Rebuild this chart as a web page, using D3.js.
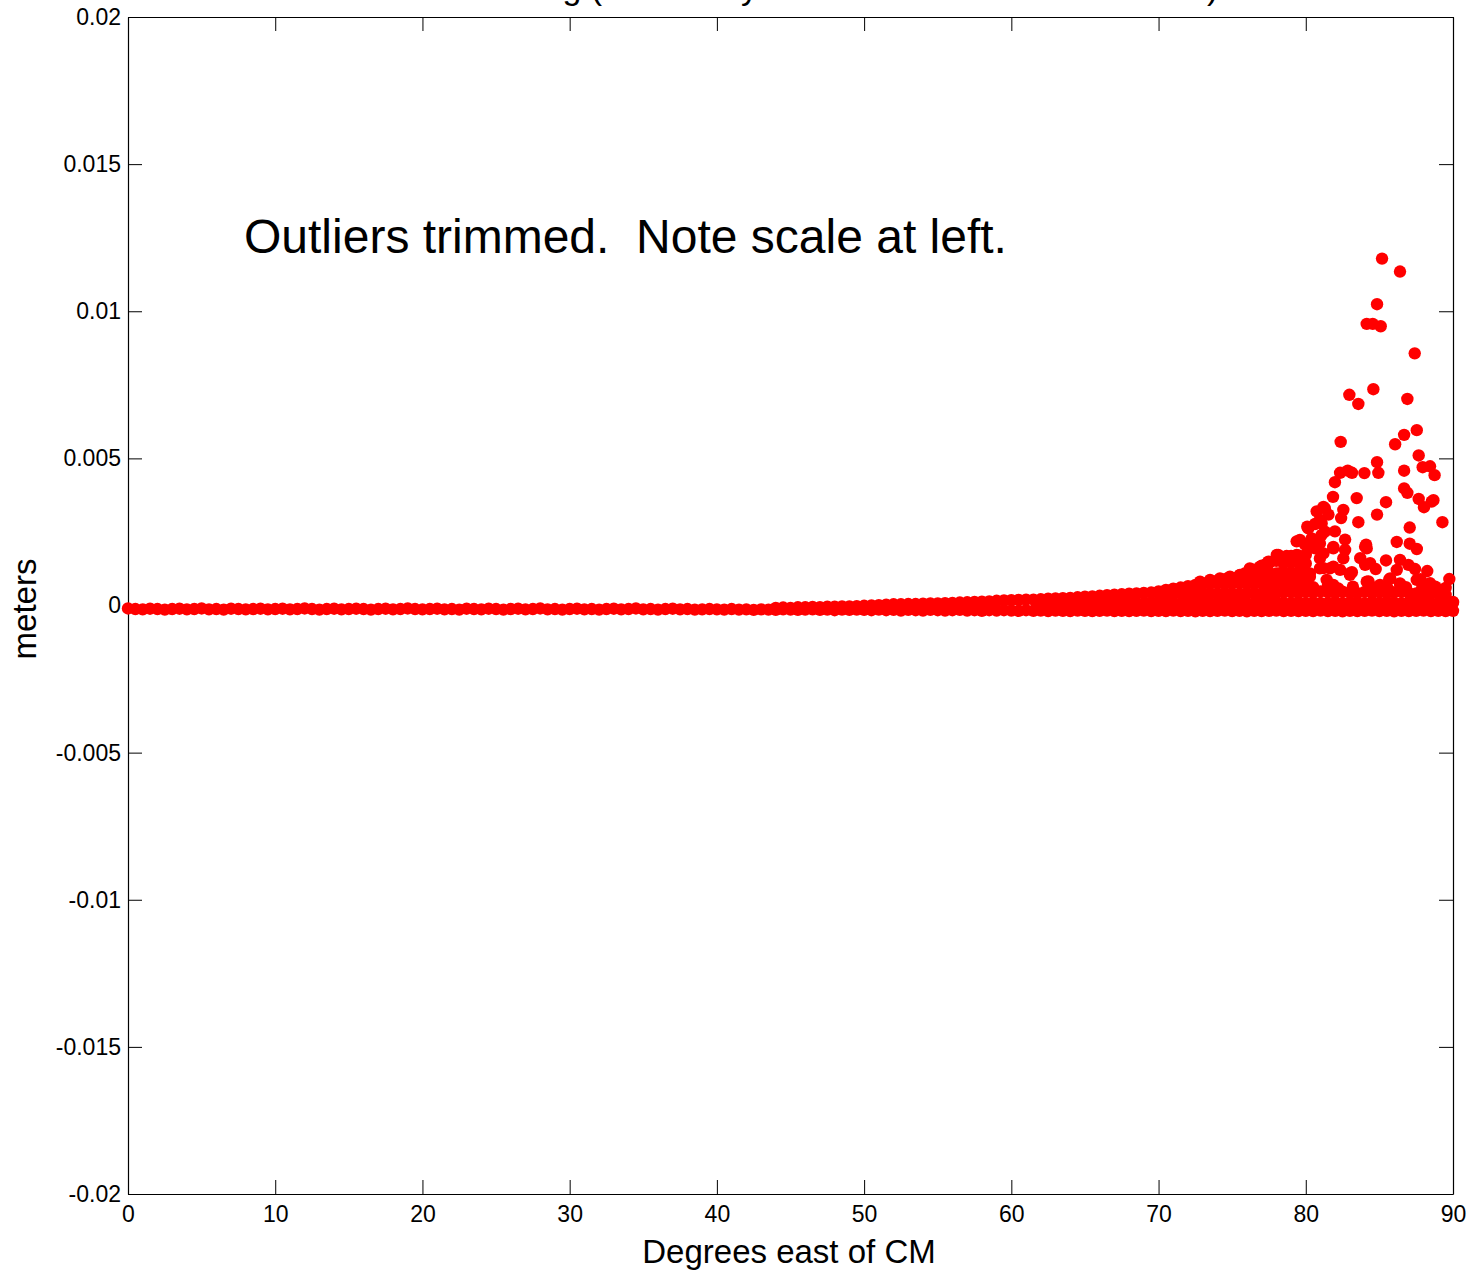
<!DOCTYPE html>
<html>
<head>
<meta charset="utf-8">
<script src="https://cdn.jsdelivr.net/npm/d3@7"></script>
<style>
body { margin: 0; background: #fff; }
svg { display: block; font-family: "Liberation Sans", Arial, sans-serif; }
</style>
</head>
<body>
<svg id="chart" width="1474" height="1271"></svg>
<script>
// axis ticks
var xTicks = [0, 10, 20, 30, 40, 50, 60, 70, 80, 90];
var xTickLabels = ['0', '10', '20', '30', '40', '50', '60', '70', '80', '90'];
var yTicks = [0.02, 0.015, 0.01, 0.005, 0, -0.005, -0.01, -0.015, -0.02];
var yTickLabels = ['0.02', '0.015', '0.01', '0.005', '0', '-0.005', '-0.01', '-0.015', '-0.02'];

// degrees of the dense band near zero
var bandDeg = [0,0.5,1,1.5,2,2.5,3,3.5,4,4.5,5,5.5,6,6.5,7,7.5,8,8.5,9,9.5,
  10,10.5,11,11.5,12,12.5,13,13.5,14,14.5,15,15.5,16,16.5,17,17.5,18,18.5,19,19.5,
  20,20.5,21,21.5,22,22.5,23,23.5,24,24.5,25,25.5,26,26.5,27,27.5,28,28.5,29,29.5,
  30,30.5,31,31.5,32,32.5,33,33.5,34,34.5,35,35.5,36,36.5,37,37.5,38,38.5,39,39.5,
  40,40.5,41,41.5,42,42.5,43,43.5,44,44.5,45,45.5,46,46.5,47,47.5,48,48.5,49,49.5,
  50,50.5,51,51.5,52,52.5,53,53.5,54,54.5,55,55.5,56,56.5,57,57.5,58,58.5,59,59.5,
  60,60.5,61,61.5,62,62.5,63,63.5,64,64.5,65,65.5,66,66.5,67,67.5,68,68.5,69,69.5,
  70,70.5,71,71.5,72,72.5,73,73.5,74,74.5,75,75.5,76,76.5,77,77.5,78,78.5,79,79.5,
  80,80.5,81,81.5,82,82.5,83,83.5,84,84.5,85,85.5,86,86.5,87,87.5,88,88.5,89,89.5,90];

// lowest row of the band (meters)
var bandLow = [-0.00010,-0.00012,-0.00013,-0.00011,-0.00012,-0.00014,-0.00012,-0.00011,-0.00013,-0.00012,-0.00010,-0.00013,-0.00012,-0.00014,-0.00011,-0.00012,-0.00013,-0.00012,-0.00011,-0.00013,
  -0.00012,-0.00011,-0.00013,-0.00012,-0.00010,-0.00012,-0.00014,-0.00012,-0.00011,-0.00013,-0.00012,-0.00011,-0.00012,-0.00014,-0.00012,-0.00011,-0.00013,-0.00012,-0.00010,-0.00012,
  -0.00013,-0.00012,-0.00011,-0.00013,-0.00012,-0.00014,-0.00011,-0.00012,-0.00013,-0.00011,-0.00012,-0.00014,-0.00012,-0.00011,-0.00013,-0.00012,-0.00010,-0.00013,-0.00012,-0.00014,
  -0.00012,-0.00011,-0.00013,-0.00012,-0.00014,-0.00012,-0.00011,-0.00013,-0.00012,-0.00010,-0.00013,-0.00012,-0.00014,-0.00012,-0.00011,-0.00013,-0.00012,-0.00014,-0.00013,-0.00012,
  -0.00013,-0.00014,-0.00012,-0.00014,-0.00013,-0.00015,-0.00013,-0.00014,-0.00015,-0.00013,-0.00014,-0.00015,-0.00014,-0.00013,-0.00015,-0.00014,-0.00016,-0.00014,-0.00015,-0.00014,
  -0.00015,-0.00016,-0.00014,-0.00016,-0.00015,-0.00017,-0.00015,-0.00016,-0.00017,-0.00015,-0.00016,-0.00017,-0.00016,-0.00015,-0.00017,-0.00016,-0.00018,-0.00016,-0.00017,-0.00016,
  -0.00017,-0.00018,-0.00016,-0.00018,-0.00017,-0.00019,-0.00017,-0.00018,-0.00019,-0.00017,-0.00018,-0.00019,-0.00018,-0.00017,-0.00019,-0.00018,-0.00019,-0.00018,-0.00017,-0.00019,
  -0.00018,-0.00019,-0.00017,-0.00019,-0.00018,-0.00020,-0.00018,-0.00019,-0.00018,-0.00017,-0.00019,-0.00018,-0.00020,-0.00018,-0.00019,-0.00018,-0.00017,-0.00019,-0.00018,-0.00019,
  -0.00018,-0.00019,-0.00017,-0.00019,-0.00018,-0.00020,-0.00018,-0.00019,-0.00018,-0.00017,-0.00019,-0.00018,-0.00020,-0.00018,-0.00019,-0.00018,-0.00017,-0.00019,-0.00018,-0.00019,-0.00018];

// upper edge of the band, [deg, meters]
var bandRidge = [[44,-0.00008],[44.5,-0.00007],[45,-0.00008],[45.5,-0.00006],[46,-0.00006],[46.5,-0.00005],[47,-0.00006],[47.5,-0.00004],
  [48,-0.00004],[48.5,-0.00003],[49,-0.00003],[49.5,-0.00002],[50,-0.00001],[50.5,0.00000],[51,0.00001],[51.5,0.00003],
  [52,0.00004],[52.5,0.00004],[53,0.00005],[53.5,0.00005],[54,0.00006],[54.5,0.00007],[55,0.00007],[55.5,0.00008],
  [56,0.00009],[56.5,0.00010],[57,0.00011],[57.5,0.00012],[58,0.00013],[58.5,0.00014],[59,0.00016],[59.5,0.00017],
  [60,0.00018],[60.5,0.00019],[61,0.00020],[61.5,0.00020],[62,0.00021],[62.5,0.00023],[63,0.00024],[63.5,0.00025],
  [64,0.00026],[64.5,0.00028],[65,0.00030],[65.5,0.00031],[66,0.00033],[66.5,0.00035],[67,0.00037],[67.5,0.00038],
  [68,0.00040],[68.5,0.00041],[69,0.00043],[69.5,0.00044],[70,0.00048],[70.5,0.00053],[71,0.00057],[71.5,0.00061],
  [72,0.00066],[72.5,0.00070],[73,0.00074],[73.5,0.00079],[74,0.00084],[74.5,0.00089],[75,0.00094],[75.5,0.00102],
  [76,0.00111],[76.5,0.00122],[77,0.00135],[77.5,0.00144],[78,0.00152],[78.5,0.00160],[79,0.00168],[79.5,0.00170],[80,0.00172]];

// inner rows of the thick part of the band, [deg, meters]
var bandMid1 = [[62,0.00008],[62.5,0.00009],[63,0.00007],[63.5,0.00009],[64,0.00010],[64.5,0.00008],[65,0.00009],[65.5,0.00011],
  [66,0.00009],[66.5,0.00008],[67,0.00010],[67.5,0.00009],[68,0.00011],[68.5,0.00009],[69,0.00008],[69.5,0.00010],
  [70,0.00009],[70.5,0.00011],[71,0.00009],[71.5,0.00008],[72,0.00010],[72.5,0.00009],[73,0.00011],[73.5,0.00009],
  [74,0.00008],[74.5,0.00010],[75,0.00009],[75.5,0.00011],[76,0.00009],[76.5,0.00008],[77,0.00010],[77.5,0.00009],
  [78,0.00011],[78.5,0.00009],[79,0.00008],[79.5,0.00010],[80,0.00009],[80.5,0.00011],[81,0.00009],[81.5,0.00008],
  [82,0.00010],[82.5,0.00009],[83,0.00011],[83.5,0.00009],[84,0.00008],[84.5,0.00010],[85,0.00009],[85.5,0.00011],
  [86,0.00009],[86.5,0.00008],[87,0.00010],[87.5,0.00009],[88,0.00011],[88.5,0.00009],[89,0.00008],[89.5,0.00010],[90,0.00009]];
var bandMid2 = [[70,0.00040],[70.5,0.00042],[71,0.00041],[71.5,0.00043],[72,0.00042],[72.5,0.00040],[73,0.00043],[73.5,0.00042],
  [74,0.00041],[74.5,0.00043],[75,0.00042],[75.5,0.00040],[76,0.00043],[76.5,0.00042],[77,0.00041],[77.5,0.00043],
  [78,0.00042],[78.5,0.00044],[79,0.00045],[79.5,0.00043],[80,0.00046],[80.5,0.00044],[81,0.00048],[81.5,0.00045],
  [82,0.00043],[82.5,0.00047],[83,0.00044],[83.5,0.00042],[84,0.00046],[84.5,0.00043],[85,0.00045],[85.5,0.00042],
  [86,0.00044],[86.5,0.00046],[87,0.00043],[87.5,0.00041],[88,0.00044],[88.5,0.00042],[89,0.00040],[89.5,0.00036],[90,0.00012]];
var bandMid3 = [[73.5,0.00074],[74,0.00076],[74.5,0.00075],[75,0.00077],[75.5,0.00076],[76,0.00074],[76.5,0.00077],
  [77,0.00076],[77.5,0.00075],[78,0.00077],[78.5,0.00076],[79,0.00074],[79.5,0.00077],[80,0.00076]];
var bandMid4 = [[76.5,0.00108],[77,0.00110],[77.5,0.00111],[78,0.00109],[78.5,0.00110],[79,0.00112],[79.5,0.00110],[80,0.00108]];
var bandMid5 = [[78.5,0.00144],[79,0.00146],[79.5,0.00145],[80,0.00143]];
// lumps on top of the band between 80 and 90 deg
var bandLumps = [[80.5,0.00062],[81.5,0.00066],[82.2,0.00058],[83.2,0.00064],[84.6,0.00060],[85.6,0.00056],
  [86.8,0.00062],[87.9,0.00058],[88.8,0.00064],[89.5,0.00060]];

// scattered points above the band, [deg, meters]
var spread = [[85.18,0.01179],[86.40,0.01135],[84.84,0.01024],[84.14,0.00957],[84.55,0.00957],[85.09,0.00949],
  [87.40,0.00857],[84.59,0.00735],[82.96,0.00716],[86.90,0.00702],[83.57,0.00685],[87.54,0.00596],[86.68,0.00580],
  [82.37,0.00556],[86.07,0.00548],[87.67,0.00510],[84.84,0.00487],[87.94,0.00470],[88.44,0.00473],[86.68,0.00458],
  [82.33,0.00451],[82.85,0.00458],[83.14,0.00451],[84.93,0.00451],[83.98,0.00450],[88.75,0.00443],[81.98,0.00419],
  [86.68,0.00398],[86.90,0.00383],[81.85,0.00369],[83.46,0.00365],[87.67,0.00362],[88.67,0.00358],[88.55,0.00353],
  [85.45,0.00351],[88.03,0.00334],[81.20,0.00335],[81.30,0.00330],[82.55,0.00325],[80.74,0.00320],[84.84,0.00309],
  [81.54,0.00309],[82.40,0.00297],[80.96,0.00291],[89.28,0.00283],[83.57,0.00283],[80.63,0.00277],[81.08,0.00279],
  [80.10,0.00268],[87.06,0.00265],[80.17,0.00262],[81.98,0.00252],[81.30,0.00251],[81.08,0.00240],[80.40,0.00228],
  [82.67,0.00224],[79.60,0.00223],[79.38,0.00218],[86.18,0.00216],[80.96,0.00211],[87.06,0.00210],[79.95,0.00207],
  [84.10,0.00207],[80.51,0.00200],[84.03,0.00200],[81.87,0.00199],[80.63,0.00194],[81.87,0.00194],[84.14,0.00194],
  [87.54,0.00192],[82.67,0.00189],[81.20,0.00177],[78.13,0.00172],[79.38,0.00172],[78.03,0.00172],[78.70,0.00168],
  [79.27,0.00166],[83.70,0.00161],[82.55,0.00160],[80.96,0.00160],[85.45,0.00153],[86.40,0.00155],[77.46,0.00149],
  [84.37,0.00144],[79.72,0.00143],[77.37,0.00143],[86.97,0.00138],[77.23,0.00138],[84.03,0.00138],[79.72,0.00138],
  [76.90,0.00132],[81.87,0.00132],[81.20,0.00127],[81.64,0.00126],[76.20,0.00126],[80.96,0.00126],[84.75,0.00124],
  [87.42,0.00124],[76.40,0.00121],[86.18,0.00121],[79.83,0.00121],[82.33,0.00121],[88.25,0.00117],[83.13,0.00113],
  [78.25,0.00110],[80.28,0.00109],[82.99,0.00109],[75.86,0.00109],[75.53,0.00104],[78.25,0.00104],[83.00,0.00104],
  [74.85,0.00098],[79.83,0.00098],[78.93,0.00098],[80.28,0.00098],[89.75,0.00090],[85.67,0.00089],[79.16,0.00089],
  [87.80,0.00089],[85.74,0.00092],[76.46,0.00092],[74.17,0.00092],[73.50,0.00087],[81.42,0.00087],[77.57,0.00087],
  [87.54,0.00087],[84.26,0.00082],[77.37,0.00081],[79.95,0.00081],[84.14,0.00081],[72.82,0.00081],[88.44,0.00076],
  [84.26,0.00075],[86.40,0.00075],[76.55,0.00075],[86.42,0.00070],[85.04,0.00070],[81.87,0.00070],[89.13,0.00053],
  [77.57,0.00053],[78.93,0.00053],[89.34,0.00030]];

var titleText = 'Error in northing (Thomas\' y minus the exact TM solutions)';
var noteText = 'Outliers trimmed.  Note scale at left.';
var xLabel = 'Degrees east of CM';
var yLabel = 'meters';

var margin = {left: 128, top: 17, right: 21, bottom: 77},
    width = 1474 - margin.left - margin.right,
    height = 1271 - margin.top - margin.bottom;

var svg = d3.select('#chart');
var g = svg.append('g')
    .attr('transform', 'translate(' + margin.left + ',' + margin.top + ')');

var x = d3.scaleLinear().domain([0, 90]).range([0, width]);
var y = d3.scaleLinear().domain([-0.02, 0.02]).range([height, 0]);

var tickLen = 14;

// box with inward ticks on all four sides
var $xb = g.append('g')
    .attr('transform', 'translate(0,' + height + ')')
    .call(d3.axisBottom(x).tickValues(xTicks)
        .tickFormat(function(d, i) { return xTickLabels[i]; })
        .tickSizeInner(-tickLen).tickSizeOuter(0).tickPadding(12));
var $xt = g.append('g')
    .call(d3.axisTop(x).tickValues(xTicks).tickFormat('')
        .tickSizeInner(-tickLen).tickSizeOuter(0));
var $yl = g.append('g')
    .call(d3.axisLeft(y).tickValues(yTicks)
        .tickFormat(function(d, i) { return yTickLabels[i]; })
        .tickSizeInner(-tickLen).tickSizeOuter(0).tickPadding(7));
var $yr = g.append('g')
    .attr('transform', 'translate(' + width + ',0)')
    .call(d3.axisRight(y).tickValues(yTicks).tickFormat('')
        .tickSizeInner(-tickLen).tickSizeOuter(0));

[$xb, $xt, $yl, $yr].forEach(function($a) {
    $a.attr('font-family', null).attr('font-size', null);
    $a.select('.domain').attr('stroke', '#000').attr('stroke-width', 1.2);
    $a.selectAll('.tick line').attr('stroke', '#000').attr('stroke-width', 1);
    $a.selectAll('.tick text').attr('fill', '#000').style('font-size', '23px');
});

// all points
var pts = bandDeg.map(function(d, i) { return [d, bandLow[i]]; })
    .concat(bandRidge, bandMid1, bandMid2, bandMid3, bandMid4, bandMid5, bandLumps, spread);

g.append('g')
    .selectAll('circle')
    .data(pts)
    .enter().append('circle')
        .attr('cx', function(d) { return x(d[0]); })
        .attr('cy', function(d) { return y(d[1]); })
        .attr('r', 6.2)
        .attr('fill', '#ff0000');

// texts (title sits above the top edge, only its descenders show)
svg.append('text')
    .attr('x', 778).attr('y', -1)
    .attr('text-anchor', 'middle')
    .style('font-size', '34px')
    .text(titleText);

svg.append('text')
    .attr('x', 244).attr('y', 253)
    .style('font-size', '48px')
    .style('white-space', 'pre')
    .text(noteText);

svg.append('text')
    .attr('x', 789).attr('y', 1263)
    .attr('text-anchor', 'middle')
    .style('font-size', '33px')
    .text(xLabel);

svg.append('text')
    .attr('transform', 'translate(36,609) rotate(-90)')
    .attr('text-anchor', 'middle')
    .style('font-size', '33px')
    .text(yLabel);
</script>
</body>
</html>
